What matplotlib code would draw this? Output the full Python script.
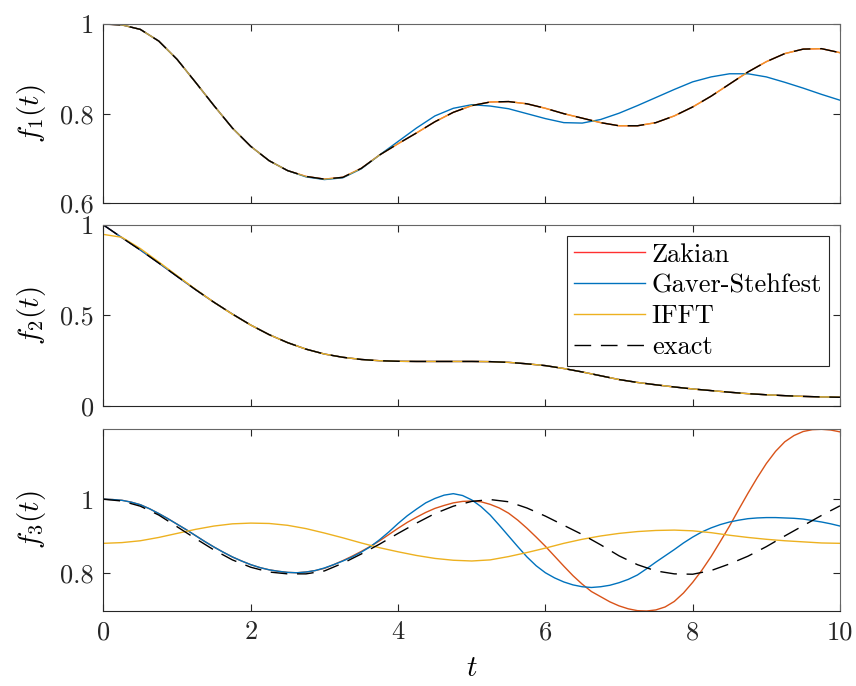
import numpy as np
import matplotlib.pyplot as plt

plt.rcParams['font.family'] = 'cmr10'
plt.rcParams['mathtext.fontset'] = 'cm'
plt.rcParams['axes.formatter.use_mathtext'] = True

# sample times: step 0.25, and step 0.125 for the fast curves of f3
t = np.linspace(0, 10, 41)
t_fine = np.linspace(0, 10, 81)

# f1(t)
f1_exact = [1.000, 0.998, 0.988, 0.962, 0.921, 0.870, 0.818, 0.768, 0.727, 0.695,
            0.673, 0.660, 0.654, 0.658, 0.678, 0.708, 0.733, 0.757, 0.782, 0.803,
            0.818, 0.826, 0.827, 0.822, 0.812, 0.800, 0.790, 0.780, 0.773, 0.773,
            0.780, 0.795, 0.815, 0.839, 0.866, 0.893, 0.916, 0.934, 0.944, 0.945,
            0.936]
f1_gs = [1.000, 0.998, 0.988, 0.962, 0.921, 0.870, 0.818, 0.768, 0.727, 0.695,
         0.673, 0.659, 0.653, 0.657, 0.677, 0.708, 0.738, 0.768, 0.795, 0.812,
         0.820, 0.817, 0.811, 0.800, 0.789, 0.780, 0.779, 0.787, 0.801, 0.818,
         0.836, 0.854, 0.871, 0.882, 0.889, 0.889, 0.882, 0.870, 0.857, 0.843,
         0.830]
f1_zakian = f1_exact
f1_ifft = f1_exact

# f2(t)
f2_exact = [1.000, 0.930, 0.862, 0.790, 0.716, 0.643, 0.573, 0.508, 0.447, 0.394,
            0.350, 0.314, 0.287, 0.269, 0.257, 0.250, 0.247, 0.246, 0.246, 0.246,
            0.246, 0.245, 0.241, 0.233, 0.223, 0.207, 0.188, 0.167, 0.146, 0.130,
            0.117, 0.105, 0.094, 0.085, 0.076, 0.068, 0.062, 0.057, 0.053, 0.050,
            0.048]
f2_ifft = [0.948, 0.932, 0.870, 0.796, 0.720, 0.645, 0.573, 0.507, 0.447, 0.394,
           0.350, 0.314, 0.287, 0.269, 0.257, 0.250, 0.247, 0.246, 0.246, 0.246,
           0.246, 0.245, 0.241, 0.233, 0.223, 0.207, 0.188, 0.167, 0.146, 0.130,
           0.117, 0.105, 0.094, 0.085, 0.076, 0.068, 0.062, 0.057, 0.053, 0.050,
           0.049]
f2_zakian = f2_exact
f2_gs = f2_exact

# f3(t)
f3_exact = [1.000, 0.995, 0.981, 0.957, 0.925, 0.893, 0.862, 0.835, 0.815, 0.802,
            0.797, 0.797, 0.805, 0.826, 0.851, 0.878, 0.907, 0.935, 0.961, 0.981,
            0.994, 0.999, 0.993, 0.976, 0.954, 0.929, 0.904, 0.876, 0.846, 0.822,
            0.805, 0.797, 0.796, 0.806, 0.824, 0.845, 0.871, 0.900, 0.928, 0.956,
            0.982]
f3_ifft = [0.880, 0.882, 0.887, 0.896, 0.907, 0.918, 0.927, 0.933, 0.935, 0.934,
           0.929, 0.920, 0.908, 0.895, 0.881, 0.868, 0.857, 0.847, 0.839, 0.834,
           0.832, 0.835, 0.844, 0.855, 0.867, 0.880, 0.891, 0.900, 0.907, 0.912,
           0.915, 0.916, 0.914, 0.909, 0.902, 0.896, 0.891, 0.887, 0.884, 0.881,
           0.880]
# on t_fine
f3_gs = [1.000, 0.999, 0.997, 0.992, 0.985, 0.974, 0.961, 0.947, 0.932, 0.917,
         0.901, 0.885, 0.870, 0.856, 0.843, 0.832, 0.822, 0.814, 0.808, 0.804,
         0.801, 0.800, 0.802, 0.806, 0.813, 0.822, 0.832, 0.843, 0.856, 0.871,
         0.890, 0.911, 0.934, 0.955, 0.973, 0.990, 1.002, 1.011, 1.015, 1.010,
         0.998, 0.980, 0.957, 0.929, 0.900, 0.871, 0.843, 0.819, 0.800, 0.786,
         0.775, 0.767, 0.762, 0.760, 0.762, 0.766, 0.773, 0.782, 0.794, 0.811,
         0.829, 0.846, 0.863, 0.881, 0.897, 0.911, 0.922, 0.931, 0.938, 0.943,
         0.947, 0.949, 0.950, 0.950, 0.949, 0.948, 0.946, 0.942, 0.938, 0.933,
         0.927]
f3_zakian = [1.000, 0.999, 0.997, 0.992, 0.985, 0.974, 0.961, 0.947, 0.932, 0.917,
             0.901, 0.885, 0.870, 0.856, 0.843, 0.832, 0.822, 0.814, 0.808, 0.804,
             0.801, 0.800, 0.802, 0.806, 0.812, 0.822, 0.833, 0.845, 0.858, 0.872,
             0.887, 0.904, 0.921, 0.937, 0.951, 0.964, 0.975, 0.983, 0.990, 0.994,
             0.995, 0.993, 0.986, 0.976, 0.962, 0.943, 0.921, 0.897, 0.872, 0.845,
             0.818, 0.792, 0.769, 0.749, 0.735, 0.721, 0.710, 0.702, 0.697, 0.696,
             0.699, 0.707, 0.722, 0.745, 0.774, 0.807, 0.844, 0.885, 0.927, 0.972,
             1.016, 1.058, 1.097, 1.130, 1.156, 1.173, 1.184, 1.189, 1.190, 1.188,
             1.183]

labels = ['Zakian', 'Gaver-Stehfest', 'IFFT', 'exact']
xticks = [0, 2, 4, 6, 8, 10]
ax_col = '#262626'
lw = 1.0

fig = plt.figure(figsize=(8.56, 6.86), dpi=100)
ax1 = fig.add_axes([0.1209, 0.7036, 0.8604, 0.2614])
ax2 = fig.add_axes([0.1209, 0.4082, 0.8604, 0.2638])
ax3 = fig.add_axes([0.1209, 0.1093, 0.8604, 0.2649])


def draw(ax, tz, zak, tg, gs, ifft, ex, zak_col, ifft_alpha=1.0):
    ax.plot(tz, zak, color=zak_col, lw=lw, label=labels[0])
    ax.plot(tg, gs, color='#0072BD', lw=lw, label=labels[1])
    ax.plot(t, ifft, color='#EDB120', lw=lw, alpha=ifft_alpha, label=labels[2])
    ax.plot(t, ex, color='black', lw=lw, dashes=(12, 7), label=labels[3])
    ax.set_xlim(0, 10)
    ax.set_xticks(xticks)
    ax.tick_params(direction='in', length=5.3, width=0.8, top=True, right=True,
                   labelsize=19, colors=ax_col, pad=7)
    for s in ax.spines.values():
        s.set_color(ax_col)
        s.set_linewidth(0.8)
    ax.spines['top'].set_color('#666666')
    ax.spines['right'].set_color('#666666')


draw(ax1, t, f1_zakian, t, f1_gs, f1_ifft, f1_exact, '#FF3030', ifft_alpha=0.8)
ax1.set_ylim(0.6, 1)
ax1.set_yticks([0.6, 0.8, 1], ['0.6', '0.8', '1'])
ax1.set_xticklabels([])
ax1.set_ylabel(r'$f_1(t)$', fontsize=21)

draw(ax2, t, f2_zakian, t, f2_gs, f2_ifft, f2_exact, '#FF3030')
ax2.set_ylim(0, 1)
ax2.set_yticks([0, 0.5, 1], ['0', '0.5', '1'])
ax2.set_xticklabels([])
ax2.set_ylabel(r'$f_2(t)$', fontsize=21)
leg = ax2.legend(loc='upper right', bbox_to_anchor=(0.9855, 0.941), borderaxespad=0,
                 fontsize=19, handlelength=2.7, handletextpad=0.25, labelspacing=0.27,
                 borderpad=0.27, fancybox=False, framealpha=1, edgecolor=ax_col)
leg.get_frame().set_linewidth(0.8)

draw(ax3, t_fine, f3_zakian, t_fine, f3_gs, f3_ifft, f3_exact, '#D95319')
all3 = f3_exact + f3_gs + f3_zakian + f3_ifft
ax3.set_ylim(min(all3), max(all3))
ax3.set_yticks([0.8, 1], ['0.8', '1'])
ax3.set_xticklabels([str(v) for v in xticks])
ax3.set_ylabel(r'$f_3(t)$', fontsize=21)
ax3.set_xlabel(r'$t$', fontsize=21, labelpad=8)

for ax in (ax1, ax2, ax3):
    ax.yaxis.set_label_coords(-0.075, 0.5)

fig.savefig('out.png', dpi=100)
